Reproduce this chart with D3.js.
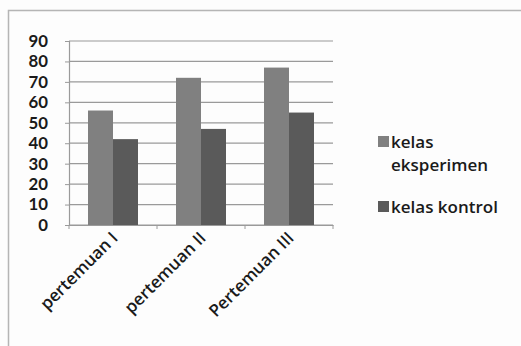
<!DOCTYPE html>
<html>
<head>
<meta charset="utf-8">
<script src="https://cdn.jsdelivr.net/npm/d3@7"></script>
<style>
  body { margin: 0; background: #fff; }
  text { font-family: "Open Sans", sans-serif; fill: #1a1a1a; }
</style>
</head>
<body>
<script>
// data
const categories = ['pertemuan I', 'pertemuan II', 'Pertemuan III'];
const eksperimen = [56, 72, 77];
const kontrol = [42, 47, 55];
const seriesNames = ['kelas eksperimen', 'kelas kontrol'];
const yTicks = [0, 10, 20, 30, 40, 50, 60, 70, 80, 90];

const colors = ['#808080', '#5a5a5a'];

const svg = d3.select('body').append('svg')
    .attr('width', 521)
    .attr('height', 346);

svg.append('rect')
    .attr('width', 521).attr('height', 346)
    .attr('fill', '#fdfdfd');

// outer chart frame (only top and left visible)
svg.append('path')
    .attr('d', 'M8.5,346 L8.5,10.5 L521,10.5')
    .attr('fill', 'none')
    .attr('stroke', '#b5b5b5')
    .attr('stroke-width', 1.5);

const plotLeft = 69, plotRight = 333, plotTop = 41, plotBottom = 225;

const x = d3.scaleBand().domain(categories).range([plotLeft, plotRight]);
const y = d3.scaleLinear().domain([0, 90]).range([plotBottom, plotTop]);
const inner = d3.scaleBand().domain([0, 1]).range([0, 50]);

// gridlines
svg.selectAll('line.grid')
    .data(yTicks)
    .enter()
    .append('line')
    .attr('class', 'grid')
    .attr('x1', plotLeft).attr('x2', plotRight)
    .attr('y1', d => y(d)).attr('y2', d => y(d))
    .attr('stroke', '#9a9a9a')
    .attr('stroke-width', 1.2);

// y axis
const yAxis = svg.append('g')
    .attr('transform', `translate(${plotLeft},0)`)
    .call(d3.axisLeft(y).tickValues(yTicks).tickSize(4).tickPadding(17));
yAxis.select('.domain').attr('stroke', '#9a9a9a').attr('stroke-width', 1.2);
yAxis.selectAll('.tick line').attr('stroke', '#9a9a9a');
yAxis.selectAll('text')
    .attr('font-size', 16.8)
    .attr('font-weight', 700)
    .attr('fill', '#1a1a1a')
    .style('font-family', 'Lato, sans-serif');

// bars
const rows = categories.map((c, i) => ({ cat: c, vals: [eksperimen[i], kontrol[i]] }));
const groups = svg.selectAll('g.cat')
    .data(rows)
    .enter()
    .append('g')
    .attr('class', 'cat')
    .attr('transform', d => `translate(${x(d.cat) + (x.bandwidth() - 50) / 2},0)`);

groups.selectAll('rect')
    .data(d => d.vals)
    .enter()
    .append('rect')
    .attr('x', (d, i) => inner(i))
    .attr('width', inner.bandwidth())
    .attr('y', d => y(d))
    .attr('height', d => y(0) - y(d))
    .attr('fill', (d, i) => colors[i]);

// x axis
const xAxis = svg.append('g')
    .attr('transform', `translate(0,${plotBottom})`)
    .call(d3.axisBottom(x).tickSize(0).tickPadding(0));
xAxis.select('.domain').attr('stroke', '#9a9a9a').attr('stroke-width', 1.2);
xAxis.selectAll('.tick text').remove();

// category boundary ticks
svg.selectAll('line.xtick')
    .data([plotLeft, ...categories.map(c => x(c) + x.bandwidth())])
    .enter()
    .append('line')
    .attr('x1', d => d).attr('x2', d => d)
    .attr('y1', plotBottom).attr('y2', plotBottom + 4)
    .attr('stroke', '#9a9a9a');

// rotated category labels
svg.selectAll('text.xlab')
    .data(categories)
    .enter()
    .append('text')
    .attr('class', 'xlab')
    .attr('transform', d => `translate(${x(d) + x.bandwidth() / 2 + 6},${plotBottom + 14}) rotate(-45)`)
    .attr('text-anchor', 'end')
    .attr('font-size', 17)
    .attr('font-weight', 600)
    .text(d => d);

// legend
const legend = svg.append('g');
legend.append('rect')
    .attr('x', 378).attr('y', 136).attr('width', 11).attr('height', 11)
    .attr('fill', colors[0]);
legend.append('text')
    .attr('x', 391).attr('y', 148)
    .attr('font-size', 17).attr('font-weight', 600)
    .selectAll('tspan')
    .data(['kelas', 'eksperimen'])
    .enter()
    .append('tspan')
    .attr('x', 391)
    .attr('dy', (d, i) => i === 0 ? 0 : 23)
    .text(d => d);
legend.append('rect')
    .attr('x', 378).attr('y', 201).attr('width', 11).attr('height', 11)
    .attr('fill', colors[1]);
legend.append('text')
    .attr('x', 391).attr('y', 213)
    .attr('font-size', 17).attr('font-weight', 600)
    .text(seriesNames[1]);
</script>
</body>
</html>
